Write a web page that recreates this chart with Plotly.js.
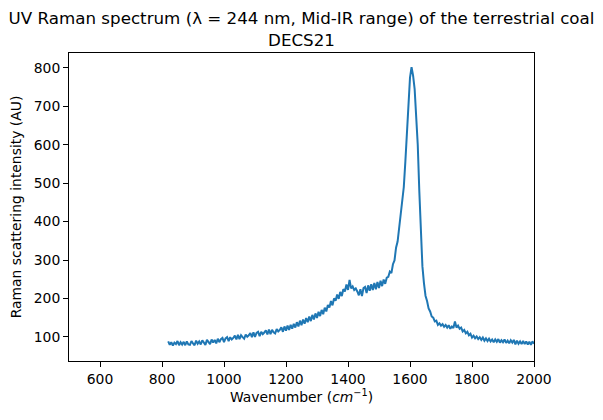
<!DOCTYPE html>
<html>
<head>
<meta charset="utf-8">
<script src="https://cdn.plot.ly/plotly-3.0.1.min.js"></script>
<style>html,body{margin:0;padding:0;background:#fff;}#chart{width:603px;height:420px;}</style>
</head>
<body>
<div id="chart"></div>
<script>
// Wavenumber (cm^-1), sampled every 5 cm^-1
const wavenumber = [
 820,825,830,835,840,845,850,855,860,865,
 870,875,880,885,890,895,900,905,910,915,
 920,925,930,935,940,945,950,955,960,965,
 970,975,980,985,990,995,1000,1005,1010,1015,
 1020,1025,1030,1035,1040,1045,1050,1055,1060,1065,
 1070,1075,1080,1085,1090,1095,1100,1105,1110,1115,
 1120,1125,1130,1135,1140,1145,1150,1155,1160,1165,
 1170,1175,1180,1185,1190,1195,1200,1205,1210,1215,
 1220,1225,1230,1235,1240,1245,1250,1255,1260,1265,
 1270,1275,1280,1285,1290,1295,1300,1305,1310,1315,
 1320,1325,1330,1335,1340,1345,1350,1355,1360,1365,
 1370,1375,1380,1385,1390,1395,1400,1405,1410,1415,
 1420,1425,1430,1435,1440,1445,1450,1455,1460,1465,
 1470,1475,1480,1485,1490,1495,1500,1505,1510,1515,
 1520,1525,1530,1535,1540,1545,1550,1555,1560,1565,
 1570,1575,1580,1585,1590,1595,1600,1605,1610,1615,
 1620,1625,1630,1635,1640,1645,1650,1655,1660,1665,
 1670,1675,1680,1685,1690,1695,1700,1705,1710,1715,
 1720,1725,1730,1735,1740,1745,1750,1755,1760,1765,
 1770,1775,1780,1785,1790,1795,1800,1805,1810,1815,
 1820,1825,1830,1835,1840,1845,1850,1855,1860,1865,
 1870,1875,1880,1885,1890,1895,1900,1905,1910,1915,
 1920,1925,1930,1935,1940,1945,1950,1955,1960,1965,
 1970,1975,1980,1985,1990,1995,2000
];
// Raman scattering intensity (AU)
const intensity = [
 88,79,86,77,85,81,89,78,86,80,
 87,78,88,80,79,89,83,78,90,82,
 88,80,91,83,79,92,85,81,93,85,
 92,83,95,86,94,97,86,96,99,89,
 99,93,97,103,93,105,94,104,99,95,
 106,100,104,110,99,112,100,110,113,102,
 113,107,111,117,106,119,107,118,112,109,
 120,114,118,125,113,127,116,129,118,131,
 121,134,124,138,127,142,130,145,134,149,
 138,153,141,157,145,161,149,165,154,170,
 159,176,166,183,176,193,182,200,194,210,
 199,217,206,224,218,236,222,248,226,231,
 222,226,218,208,224,206,227,230,214,234,
 220,237,222,240,224,243,227,246,232,249,
 238,254,256,270,266,289,299,332,348,388,
 410,450,490,556,626,722,775,802,780,745,
 680,600,480,364,284,240,207,193,174,166,
 153,150,140,142,131,135,129,133,126,131,
 124,130,121,127,123,140,124,129,121,124,
 114,118,109,113,104,108,98,103,96,101,
 94,99,92,98,90,96,89,95,88,93,
 86,93,87,94,85,91,86,93,84,90,
 83,91,85,92,80,90,82,88,81,89,
 81,88,80,87,79,88,82
];
const xTicks = [600,800,1000,1200,1400,1600,1800,2000];
const yTicks = [100,200,300,400,500,600,700,800];

const FONT = 'DejaVu Sans, sans-serif';
const trace = {
  x: wavenumber, y: intensity, type: 'scatter', mode: 'lines',
  line: {color: '#1f77b4', width: 2}, hoverinfo: 'skip'
};
const axisCommon = {
  showline: true, linecolor: '#000', linewidth: 1, mirror: true,
  ticks: 'outside', ticklen: 5, tickwidth: 1, tickcolor: '#000',
  showgrid: false, zeroline: false,
  tickfont: {family: FONT, size: 13.9, color: '#000'}
};
const layout = {
  width: 603, height: 420,
  margin: {l: 69, r: 69, t: 53, b: 59},
  paper_bgcolor: '#fff', plot_bgcolor: '#fff',
  showlegend: false,
  title: {
    text: 'UV Raman spectrum (λ = 244 nm, Mid-IR range) of the terrestrial coal<br>DECS21',
    font: {family: FONT, size: 16.7, color: '#000'},
    x: 0.5, xanchor: 'center', xref: 'container',
    y: 1 - 24/420, yanchor: 'top', yref: 'container'
  },
  xaxis: Object.assign({}, axisCommon, {
    range: [500, 2000], tickvals: xTicks, ticktext: xTicks.map(String),
    title: {text: 'Wavenumber (<i>cm</i><sup>−1</sup>)', font: {family: FONT, size: 13.9, color: '#000'}, standoff: 6}
  }),
  yaxis: Object.assign({}, axisCommon, {
    range: [37, 839], tickvals: yTicks, ticktext: yTicks.map(String),
    title: {text: 'Raman scattering intensity (AU)', font: {family: FONT, size: 13.9, color: '#000'}, standoff: 8}
  })
};
Plotly.newPlot('chart', [trace], layout, {displayModeBar: false, staticPlot: true});
</script>
</body>
</html>
